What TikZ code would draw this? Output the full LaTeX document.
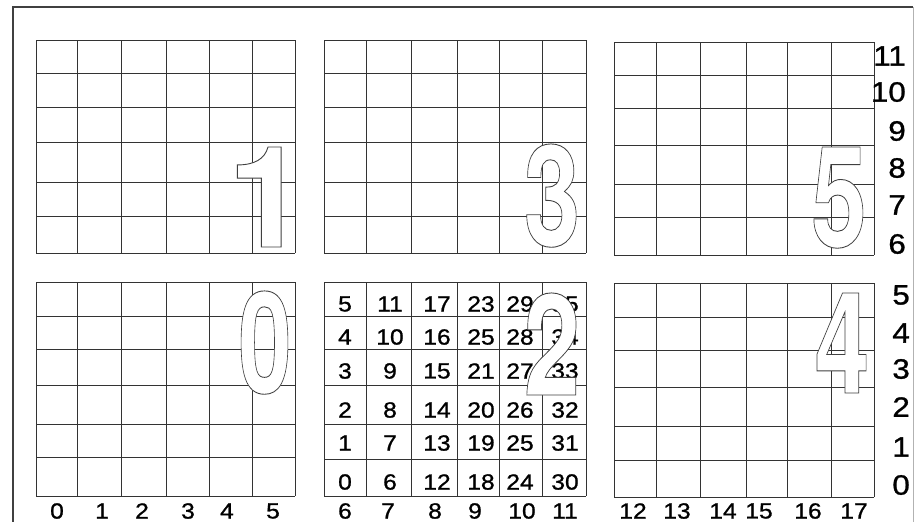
\documentclass[tikz,border=0pt]{standalone}
\usepackage{fontspec}
\setmainfont{Liberation Sans}
\newfontfamily\lblfont[FakeStretch=1.12,FakeBold=1]{Liberation Sans}
\newfontfamily\bigfont{TeX Gyre Heros}
\newcommand\outl[1]{\special{pdf:literal direct 1 g 0.25 G 2 Tr 0.9 w}#1\special{pdf:literal direct 0 g 0 G 0 Tr}}
\newcommand\mygrid[6]{%
  \foreach \xx in {#1} {\draw[gl] (\xx,#5) -- (\xx,#6);}
  \foreach \yy in {#2} {\draw[gl] (#3,\yy) -- (#4,\yy);}}
\newcommand\bigdig[3]{\scalebox{#1}[1]{\bigfont\bfseries\fontsize{#2}{#2}\selectfont\outl{#3}}}
\begin{document}
\begin{tikzpicture}[x=1pt,y=-1pt,
  gl/.style={draw=black!80,line width=0.8pt},
  inum/.style={inner sep=0pt,font=\lblfont\fontsize{22}{22}\selectfont},
  blbl/.style={inner sep=0pt,font=\lblfont\fontsize{22}{22}\selectfont},
  rlbl/.style={inner sep=0pt,anchor=east,font=\lblfont\fontsize{28}{28}\selectfont},
  bigd/.style={inner sep=0pt,anchor=base}]
\useasboundingbox (0,0) rectangle (916,522);
\fill[white] (0,0) rectangle (916,522);
\draw[black!75,line width=1.6pt] (13,530) -- (13,7) -- (913,7);
\draw[black!30,line width=1pt] (913,7) -- (913,530);
% grids
\mygrid{36,77,121,166,209,252,295}{40,73,107,142,182,216,253}{36}{295}{40}{253}
\mygrid{324,366,411,457,499,542,586}{40,73,107,142,182,216,253}{324}{586}{40}{253}
\mygrid{614,656,700,746,787,831,874}{42,75,108,145,184,217,255}{614}{874}{42}{255}
\mygrid{36,77,121,166,209,252,295}{282,316,349,385,424,457,496}{36}{295}{282}{496}
\mygrid{324,366,411,457,499,542,586}{282,316,349,385,424,459,496}{324}{586}{282}{496}
\mygrid{614,656,700,746,787,831,874}{283,317,350,387,426,460,497}{614}{874}{283}{497}
% numbers in block 2
\foreach \t/\cx/\cy [count=\i] in {
  5/345/304,11/390/304,17/437/304,23/481/304,29/520/304,35/565/304,
  4/345/337,10/390/337,16/437/337,25/481/337,28/520/337,34/565/337,
  3/345/371,9/390/371,15/437/371,21/481/371,27/520/371,33/565/371,
  2/345/410,8/390/410,14/437/410,20/481/410,26/520/410,32/565/410,
  1/345/443,7/390/443,13/437/443,19/481/443,25/520/443,31/565/443,
  0/345/482,6/390/482,12/437/482,18/481/482,24/520/482,30/565/482}
  {\node[inum] (n\i) at (\cx,\cy) {\t};}
% bottom labels
\foreach \t/\cx in {0/57,1/102,2/142,3/188,4/227,5/273,6/345,7/388,8/435,9/475,10/522,11/565,
  12/633,13/677,14/723,15/759,16/808,17/854}
  {\node[blbl] (b\t) at (\cx,511) {\t};}
% right labels
\foreach \t/\cy in {11/56,10/92,9/131,8/168,7/205,6/244}
  {\node[rlbl] (r\t) at (906,\cy) {\t};}
\foreach \t/\cy in {5/295,4/333,3/369,2/407,1/447,0/485}
  {\node[rlbl] (r\t) at (910,\cy) {\t};}
% big outlined digits
\node[bigd] (d1) at (267,247) {\bigdig{1.0}{141}{1}};
\node[bigd] (d3) at (552,246) {\bigdig{0.72}{141}{3}};
\node[bigd] (d5) at (839,247) {\bigdig{0.71}{141}{5}};
\node[bigd] (d0) at (265,393) {\bigdig{0.68}{141}{0}};
\node[bigd] (d2) at (552,395) {\bigdig{0.72}{141}{2}};
\node[bigd] (d4) at (842,393) {\bigdig{0.70}{141}{4}};
\end{tikzpicture}
\end{document}
